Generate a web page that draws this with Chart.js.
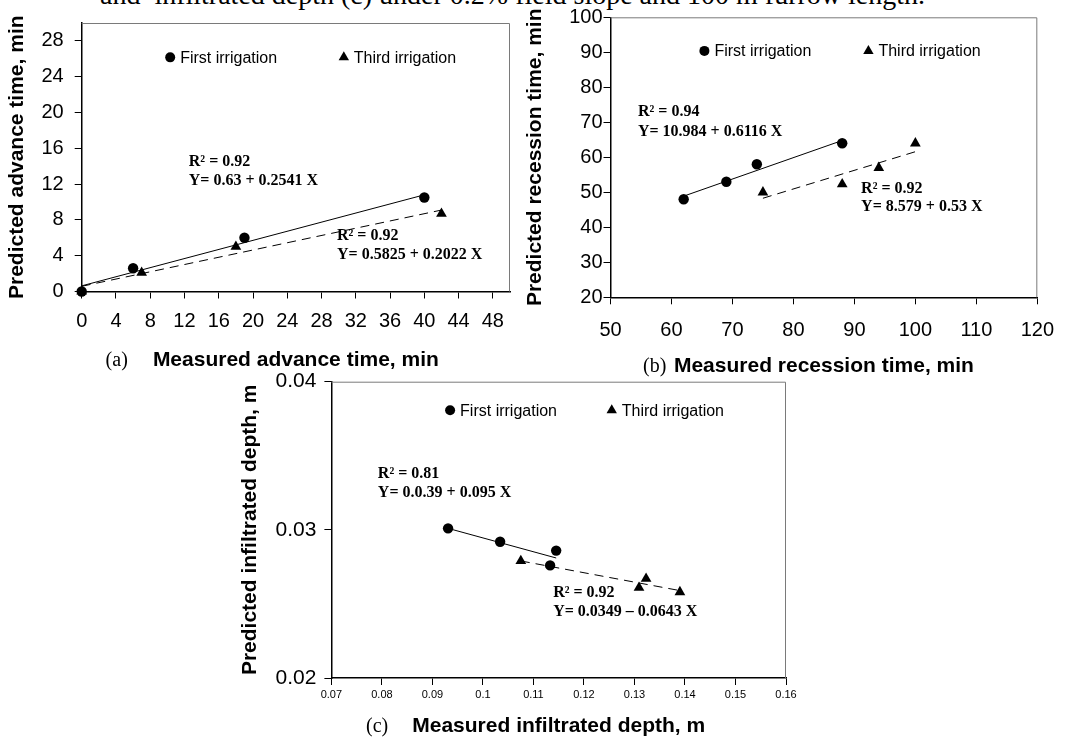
<!DOCTYPE html>
<html><head><meta charset="utf-8">
<script src="https://cdn.jsdelivr.net/npm/chart.js@4/dist/chart.umd.min.js"></script>
<style>
html,body{margin:0;padding:0;background:#fff;width:1068px;height:737px;overflow:hidden;position:relative;}
.box{position:absolute;}
#caption{position:absolute;left:100px;top:-19px;font:28px "Liberation Serif","Times New Roman",serif;line-height:28px;white-space:nowrap;color:#000;}
</style></head><body>
<div id="caption">and&nbsp; infiltrated depth (c) under 0.2% field slope and 100 m furrow length.</div>
<div class="box" style="left:0;top:0;width:525px;height:385px"><canvas id="ca"></canvas></div>
<div class="box" style="left:515px;top:0;width:553px;height:390px"><canvas id="cb"></canvas></div>
<div class="box" style="left:220px;top:360px;width:600px;height:377px"><canvas id="cc"></canvas></div>
<script>
// ---------- (a) advance time ----------
const advFirstX = [0, 6, 19, 40];
const advFirstY = [0, 2.6, 6, 10.5];
const advThirdX = [0, 7, 18, 42];
const advThirdY = [0, 2.1, 5, 8.7];
const advFitFirstX = [0, 40];
const advFitFirstY = [0.63, 10.8];
const advFitThirdX = [0, 42];
const advFitThirdY = [0.58, 9.1];
const advXTicks = [0, 4, 8, 12, 16, 20, 24, 28, 32, 36, 40, 44, 48];
const advXLabels = ['0','4','8','12','16','20','24','28','32','36','40','44','48'];
const advYTicks = [0, 4, 8, 12, 16, 20, 24, 28];
const advYLabels = ['0','4','8','12','16','20','24','28'];

// ---------- (b) recession time ----------
const recFirstX = [62, 69, 74, 88];
const recFirstY = [48, 53, 58, 64];
const recThirdX = [75, 88, 94, 100];
const recThirdY = [50, 52.3, 57, 64];
const recFitFirstX = [62, 88];
const recFitFirstY = [48.9, 64.8];
const recFitThirdX = [75, 100];
const recFitThirdY = [48.3, 61.6];
const recXTicks = [50, 60, 70, 80, 90, 100, 110, 120];
const recXLabels = ['50','60','70','80','90','100','110','120'];
const recYTicks = [20, 30, 40, 50, 60, 70, 80, 90, 100];
const recYLabels = ['20','30','40','50','60','70','80','90','100'];

// ---------- (c) infiltrated depth ----------
const infFirstX = [0.0931, 0.1034, 0.1145, 0.1133];
const infFirstY = [0.0301, 0.0292, 0.0286, 0.0276];
const infThirdX = [0.1075, 0.1309, 0.1323, 0.1390];
const infThirdY = [0.0279, 0.0261, 0.0267, 0.0258];
const infFitFirstX = [0.0931, 0.1145];
const infFitFirstY = [0.0301, 0.0281];
const infFitThirdX = [0.1075, 0.1390];
const infFitThirdY = [0.0279, 0.0259];
const infXTicks = [0.07, 0.08, 0.09, 0.10, 0.11, 0.12, 0.13, 0.14, 0.15, 0.16];
const infXLabels = ['0.07','0.08','0.09','0.1','0.11','0.12','0.13','0.14','0.15','0.16'];
const infYTicks = [0.02, 0.03, 0.04];
const infYLabels = ['0.02','0.03','0.04'];

const seriesNames = ['First irrigation', 'Third irrigation'];

const sans = "'Liberation Sans', Arial, sans-serif";
const serif = "'Liberation Serif', 'Times New Roman', serif";
Chart.defaults.font.family = sans;
Chart.defaults.color = '#000';

function pts(xs, ys) { return xs.map((v, i) => ({x: v, y: ys[i]})); }

function drawMarker(ctx, style, x, y, r) {
  ctx.beginPath();
  if (style === 'circle') {
    ctx.arc(x, y, r, 0, Math.PI * 2);
  } else {
    ctx.moveTo(x, y - r);
    ctx.lineTo(x + r * 0.866, y + r * 0.5);
    ctx.lineTo(x - r * 0.866, y + r * 0.5);
    ctx.closePath();
  }
  ctx.fillStyle = '#000';
  ctx.fill();
}

const decor = {
  id: 'decor',
  afterDatasetsDraw(chart, args, o) {
    const {ctx, chartArea: a, scales: {x, y}} = chart;
    ctx.save();
    // plot frame (top/right)
    ctx.strokeStyle = '#7a7a7a';
    ctx.lineWidth = 1;
    ctx.beginPath();
    ctx.moveTo(a.left, a.top + 0.5);
    ctx.lineTo(a.right - 0.5, a.top + 0.5);
    ctx.lineTo(a.right - 0.5, a.bottom);
    ctx.stroke();
    // legend
    ctx.textBaseline = 'middle';
    ctx.textAlign = 'left';
    o.legend.forEach(it => {
      const px = x.getPixelForValue(it.x), py = y.getPixelForValue(it.y);
      drawMarker(ctx, it.style, px, py, it.style === 'circle' ? 5 : 6);
      ctx.fillStyle = '#000';
      ctx.font = '16px ' + sans;
      ctx.fillText(it.text, px + 10, py + 1);
    });
    // equations
    ctx.font = 'bold 16px ' + serif;
    o.notes.forEach(n => {
      ctx.fillText(n.text, x.getPixelForValue(n.x), y.getPixelForValue(n.y));
    });
    // axis titles
    ctx.font = 'bold 21px ' + sans;
    ctx.textAlign = 'center';
    ctx.fillText(o.xTitle, (a.left + a.right) / 2, o.xTitleY);
    ctx.font = '20px ' + serif;
    ctx.textAlign = 'left';
    ctx.fillText(o.tag, o.tagX, o.xTitleY);
    ctx.translate(o.yTitleX, (a.top + a.bottom) / 2);
    ctx.rotate(-Math.PI / 2);
    ctx.font = 'bold 21px ' + sans;
    ctx.textAlign = 'center';
    ctx.fillText(o.yTitle, 0, 0);
    ctx.restore();
  }
};

function axis(min, max, ticks, labels, fontSize, pad, fitKey, fitVal) {
  return {
    type: 'linear', min: min, max: max,
    afterBuildTicks: s => { s.ticks = ticks.map(v => ({value: v})); },
    afterFit: s => { s[fitKey] = fitVal; },
    ticks: { callback: (v, i) => labels[i], font: {size: fontSize}, padding: pad,
             autoSkip: false, maxRotation: 0, color: '#000' },
    grid: { drawOnChartArea: false, drawTicks: true, tickLength: 7, color: '#000', lineWidth: 1 },
    border: { display: true, color: '#000', width: 1.5 }
  };
}

function makeChart(id, c) {
  return new Chart(document.getElementById(id), {
    type: 'scatter',
    data: { datasets: [
      { label: seriesNames[0], data: pts(c.fx, c.fy), pointStyle: 'circle', pointRadius: 5.2,
        backgroundColor: '#000', borderColor: '#000', borderWidth: 0, clip: false },
      { label: seriesNames[1], data: pts(c.tx, c.ty), pointStyle: 'triangle', pointRadius: 6.2,
        backgroundColor: '#000', borderColor: '#000', borderWidth: 0, clip: false },
      { label: seriesNames[0] + ' fit', data: pts(c.lfx, c.lfy), showLine: true, pointRadius: 0,
        borderColor: '#000', borderWidth: 1, fill: false, clip: false },
      { label: seriesNames[1] + ' fit', data: pts(c.ltx, c.lty), showLine: true, pointRadius: 0,
        borderColor: '#000', borderWidth: 1, borderDash: [9, 6], fill: false, clip: false }
    ]},
    options: {
      responsive: true, maintainAspectRatio: false, animation: false,
      layout: { padding: c.pad },
      plugins: { legend: {display: false}, tooltip: {enabled: false}, decor: c.decor },
      scales: { x: c.x, y: c.y }
    },
    plugins: [decor]
  });
}

makeChart('ca', {
  fx: advFirstX, fy: advFirstY, tx: advThirdX, ty: advThirdY,
  lfx: advFitFirstX, lfy: advFitFirstY, ltx: advFitThirdX, lty: advFitThirdY,
  pad: {left: 0, top: 18.3, right: 15, bottom: 0},
  x: axis(0, 50, advXTicks, advXLabels, 20, 11, 'height', 93.5),
  y: axis(0, 30, advYTicks, advYLabels, 20, 11, 'width', 81.7),
  decor: {
    legend: [{style: 'circle', x: 10.33, y: 26.16, text: seriesNames[0]},
             {style: 'triangle', x: 30.6, y: 26.16, text: seriesNames[1]}],
    notes: [{text: 'R\u00B2 = 0.92', x: 12.5, y: 14.52},
            {text: 'Y= 0.63 + 0.2541 X', x: 12.5, y: 12.32},
            {text: 'R\u00B2 = 0.92', x: 29.8, y: 6.2},
            {text: 'Y= 0.5825 + 0.2022 X', x: 29.8, y: 4.12}],
    xTitle: 'Measured advance time, min', xTitleY: 360.5, tag: '(a)', tagX: 105.6,
    yTitle: 'Predicted advance time, min', yTitleX: 17.5
  }
});

makeChart('cb', {
  fx: recFirstX, fy: recFirstY, tx: recThirdX, ty: recThirdY,
  lfx: recFitFirstX, lfy: recFitFirstY, ltx: recFitThirdX, lty: recFitThirdY,
  pad: {left: 0, top: 17.3, right: 30.6, bottom: 0},
  x: axis(50, 120, recXTicks, recXLabels, 20, 14, 'height', 92.7),
  y: axis(20, 100, recYTicks, recYLabels, 20, 1, 'width', 95.5),
  decor: {
    legend: [{style: 'circle', x: 65.4, y: 90.4, text: seriesNames[0]},
             {style: 'triangle', x: 92.3, y: 90.4, text: seriesNames[1]}],
    notes: [{text: 'R\u00B2 = 0.94', x: 54.5, y: 72.9},
            {text: 'Y= 10.984 + 0.6116 X', x: 54.5, y: 67.3},
            {text: 'R\u00B2 = 0.92', x: 91.1, y: 50.9},
            {text: 'Y= 8.579 + 0.53 X', x: 91.1, y: 45.7}],
    xTitle: 'Measured recession time, min', xTitleY: 366.5, tag: '(b)', tagX: 128,
    yTitle: 'Predicted recession time, min', yTitleX: 20
  }
});

makeChart('cc', {
  fx: infFirstX, fy: infFirstY, tx: infThirdX, ty: infThirdY,
  lfx: infFitFirstX, lfy: infFitFirstY, ltx: infFitThirdX, lty: infFitThirdY,
  pad: {left: 0, top: 21.7, right: 34, bottom: 0},
  x: axis(0.07, 0.16, infXTicks, infXLabels, 11, 3.5, 'height', 59),
  y: axis(0.02, 0.04, infYTicks, infYLabels, 21, 8, 'width', 111.4),
  decor: {
    legend: [{style: 'circle', x: 0.0935, y: 0.03807, text: seriesNames[0]},
             {style: 'triangle', x: 0.1255, y: 0.03807, text: seriesNames[1]}],
    notes: [{text: 'R\u00B2 = 0.81', x: 0.0792, y: 0.0338},
            {text: 'Y= 0.0.39 + 0.095 X', x: 0.0792, y: 0.03249},
            {text: 'R\u00B2 = 0.92', x: 0.1139, y: 0.02573},
            {text: 'Y= 0.0349 \u2013 0.0643 X', x: 0.1139, y: 0.02449}],
    xTitle: 'Measured infiltrated depth, m', xTitleY: 366.5, tag: '(c)', tagX: 146,
    yTitle: 'Predicted infiltrated depth, m', yTitleX: 30
  }
});
</script>
</body></html>
